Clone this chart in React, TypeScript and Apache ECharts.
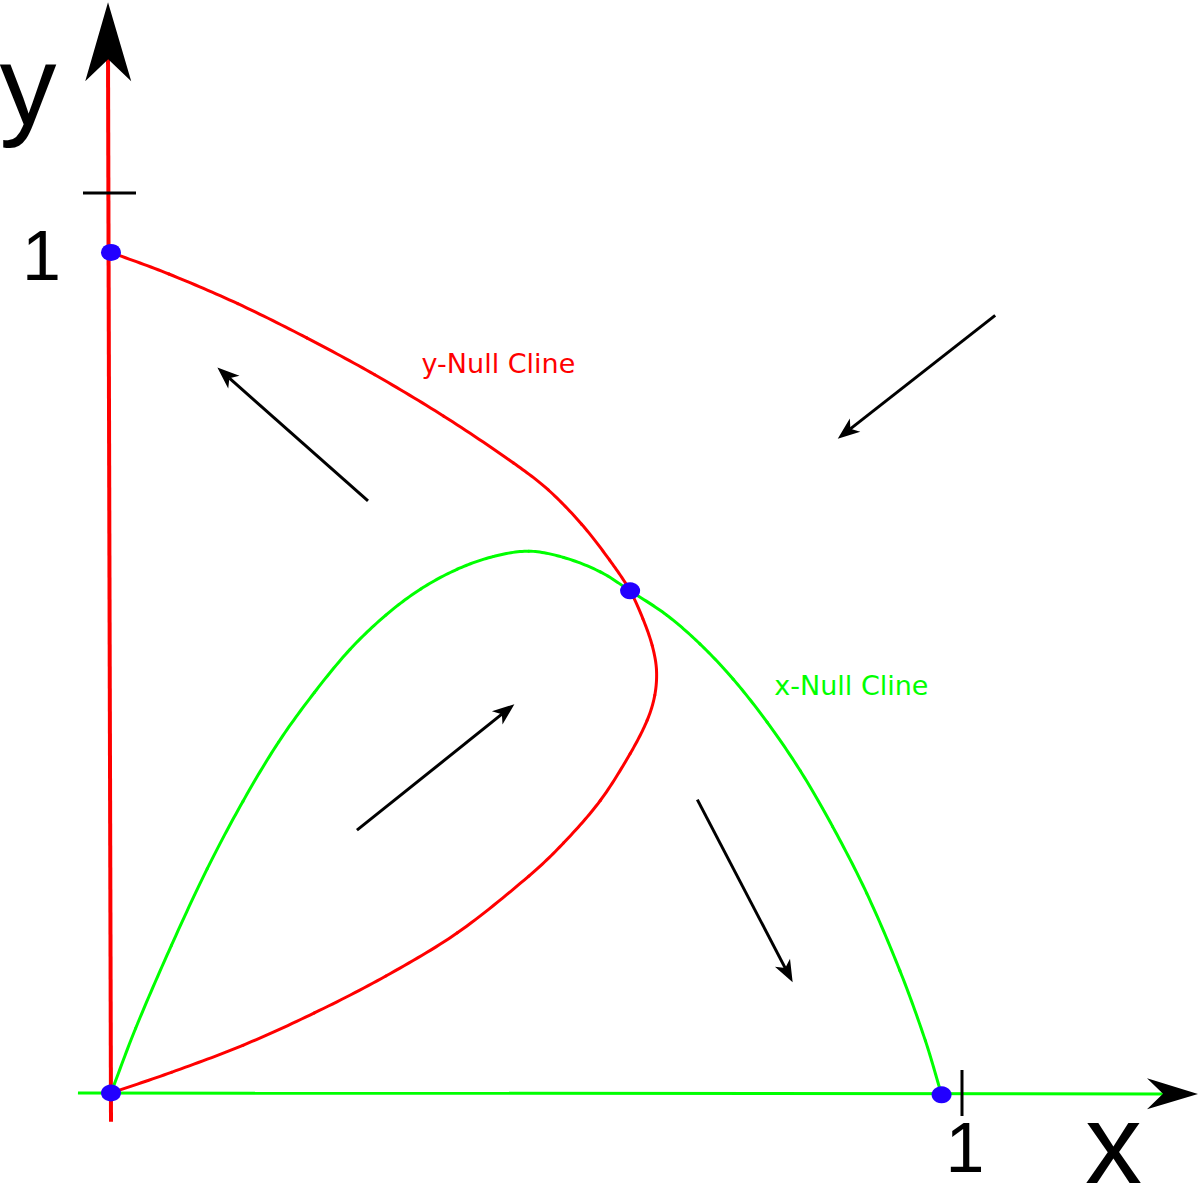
import React, { useEffect, useRef } from "react";
import * as echarts from "echarts";

// ---- Data (in phase-plane units: the "1" ticks mark x = 1 and y = 1) ----
// y-nullcline (red curve), from the equilibrium on the y axis down to the origin
const yNullclineCurve: number[][] = [
  [0, 0.934], [0.068, 0.91], [0.149, 0.877], [0.23, 0.839], [0.31, 0.798],
  [0.391, 0.752], [0.473, 0.7], [0.514, 0.67], [0.553, 0.632], [0.586, 0.592],
  [0.61, 0.558], [0.625, 0.527], [0.636, 0.497], [0.641, 0.47], [0.639, 0.442],
  [0.63, 0.414], [0.61, 0.377], [0.575, 0.325], [0.532, 0.278], [0.491, 0.241],
  [0.407, 0.178], [0.323, 0.13], [0.239, 0.089], [0.155, 0.053], [0.071, 0.023],
  [0, 0],
];
// x-nullcline (green curve), from the origin up over the hump to (1, 0)
const xNullclineCurve: number[][] = [
  [0, 0], [0.029, 0.072], [0.071, 0.164], [0.113, 0.249], [0.155, 0.324],
  [0.197, 0.39], [0.239, 0.445], [0.281, 0.493], [0.323, 0.531], [0.364, 0.56],
  [0.407, 0.582], [0.449, 0.596], [0.491, 0.602], [0.532, 0.595], [0.575, 0.579],
  [0.61, 0.558], [0.653, 0.531], [0.692, 0.499], [0.731, 0.46], [0.771, 0.412],
  [0.81, 0.358], [0.848, 0.296], [0.888, 0.222], [0.927, 0.136], [0.957, 0.058],
  [0.976, -0.002],
];
// x = 0 is part of the y-nullcline (red y axis); y = 0 is part of the x-nullcline (green x axis)
const yNullclineAxis: number[][] = [[0, -0.032], [-0.0035, 1.149]];
const xNullclineAxis: number[][] = [[-0.0388, 0], [1.236, -0.001]];
// axis arrowheads: [tailX, tailY, tipX, tipY]
const axisArrowheads: number[][] = [
  [0, -0.032, -0.0035, 1.212],
  [-0.0388, 0, 1.2773, -0.001],
];
// equilibrium points
const equilibria: number[][] = [[0, 0.934], [0.61, 0.558], [0, 0], [0.976, -0.002]];
// flow direction arrows: [fromX, fromY, toX, toY]
const flowArrows: number[][] = [
  [0.302, 0.658, 0.125, 0.806],
  [1.039, 0.864, 0.854, 0.727],
  [0.289, 0.292, 0.474, 0.432],
  [0.689, 0.326, 0.801, 0.123],
];
// ticks at 1 on each axis
const tickMarks: number[][] = [[0, 1], [1, 0]];
const tickLabelText: string[] = ["1", "1"];
const tickLabelAnchors: number[][] = [[-0.0816, 0.9303], [1.0035, -0.0616]];
const axisNameText: string[] = ["y", "x"];
const axisNameAnchors: number[][] = [[-0.0975, 1.1206], [1.178, -0.0556]];
const curveLabelText: string[] = ["y-Null Cline", "x-Null Cline"];
const curveLabelAnchors: number[][] = [[0.4553, 0.8103], [0.87, 0.4526]];

// ---- Styles ----
const RED = "#ff0000";
const GREEN = "#00ff00";
const BLUE = "#2200ff";
const BLACK = "#000000";
const AXIS_HEAD_SIZES = [
  { len: 79, half: 23, notch: 57 },
  { len: 51, half: 15.5, notch: 35 },
];
const FLOW_HEAD = { len: 22, half: 8.5, notch: 16 };
const SANS = "Liberation Sans, Arial, sans-serif";
const SAMPLES_PER_SEGMENT = 16;

function headPoints(p0: number[], p1: number[], s: { len: number; half: number; notch: number }) {
  const dx = p1[0] - p0[0];
  const dy = p1[1] - p0[1];
  const d = Math.sqrt(dx * dx + dy * dy) || 1;
  const ux = dx / d;
  const uy = dy / d;
  const nx = -uy;
  const ny = ux;
  const bx = p1[0] - ux * s.len;
  const by = p1[1] - uy * s.len;
  return {
    points: [
      [p1[0], p1[1]],
      [bx + nx * s.half, by + ny * s.half],
      [p1[0] - ux * s.notch, p1[1] - uy * s.notch],
      [bx - nx * s.half, by - ny * s.half],
    ],
    notch: [p1[0] - ux * s.notch, p1[1] - uy * s.notch],
  };
}

const dist = (a: number[], b: number[]) => Math.hypot(b[0] - a[0], b[1] - a[1]);

// smooth curve through the data points: chord-length Catmull-Rom tangents,
// each segment rendered as a finely sampled cubic
function curveSeries(name: string, pts: number[][], color: string) {
  return {
    type: "custom",
    name,
    silent: true,
    z: 4,
    data: pts,
    renderItem: (params: any, api: any) => {
      const i = params.dataIndex;
      const n = pts.length;
      if (i >= n - 1) return null;
      const c = (k: number) => api.coord(pts[Math.max(0, Math.min(n - 1, k))]);
      const tangent = (k: number) => {
        const a = c(k - 1);
        const b = c(k);
        const e = c(k + 1);
        const s = dist(a, b) + dist(b, e) || 1;
        return [(e[0] - a[0]) / s, (e[1] - a[1]) / s];
      };
      const p1 = c(i);
      const p2 = c(i + 1);
      const d = dist(p1, p2);
      const m1 = tangent(i);
      const m2 = tangent(i + 1);
      const q1 = [p1[0] + (m1[0] * d) / 3, p1[1] + (m1[1] * d) / 3];
      const q2 = [p2[0] - (m2[0] * d) / 3, p2[1] - (m2[1] * d) / 3];
      const points: number[][] = [];
      for (let s = 0; s <= SAMPLES_PER_SEGMENT; s++) {
        const t = s / SAMPLES_PER_SEGMENT;
        const u = 1 - t;
        const b0 = u * u * u;
        const b1 = 3 * u * u * t;
        const b2 = 3 * u * t * t;
        const b3 = t * t * t;
        points.push([
          b0 * p1[0] + b1 * q1[0] + b2 * q2[0] + b3 * p2[0],
          b0 * p1[1] + b1 * q1[1] + b2 * q2[1] + b3 * p2[1],
        ]);
      }
      return {
        type: "polyline",
        shape: { points },
        style: { stroke: color, lineWidth: 3, fill: null, lineCap: "round", lineJoin: "round" },
      };
    },
  };
}

function textSeries(
  name: string,
  anchors: number[][],
  texts: string[],
  fontSize: number,
  fontFamily: string,
  colors: string[]
) {
  return {
    type: "custom",
    name,
    silent: true,
    z: 10,
    data: anchors,
    renderItem: (params: any, api: any) => {
      const p = api.coord([api.value(0), api.value(1)]);
      return {
        type: "text",
        x: p[0],
        y: p[1],
        style: {
          text: texts[params.dataIndex],
          fontSize,
          fontFamily,
          fill: colors[params.dataIndex],
          textAlign: "center",
          textVerticalAlign: "middle",
        },
      };
    },
  };
}

export default function App() {
  const ref = useRef<HTMLDivElement>(null);

  useEffect(() => {
    if (!ref.current) return;
    const chart = echarts.init(ref.current, undefined, { renderer: "svg" });

    const option: any = {
      animation: false,
      backgroundColor: "#ffffff",
      grid: { left: 0, right: 0, top: 0, bottom: 0, containLabel: false },
      xAxis: { type: "value", min: -0.13043, max: 1.27967, show: false },
      yAxis: { type: "value", min: -0.10556, max: 1.21444, show: false },
      series: [
        {
          type: "line",
          name: "x = 0",
          data: yNullclineAxis,
          symbol: "none",
          lineStyle: { color: RED, width: 4 },
          z: 2,
          silent: true,
        },
        {
          type: "line",
          name: "y = 0",
          data: xNullclineAxis,
          symbol: "none",
          lineStyle: { color: GREEN, width: 3 },
          z: 2,
          silent: true,
        },
        {
          type: "custom",
          name: "axis heads",
          silent: true,
          z: 3,
          data: axisArrowheads,
          renderItem: (params: any, api: any) => {
            const p0 = api.coord([api.value(0), api.value(1)]);
            const p1 = api.coord([api.value(2), api.value(3)]);
            const h = headPoints(p0, p1, AXIS_HEAD_SIZES[params.dataIndex]);
            return { type: "polygon", shape: { points: h.points }, style: { fill: BLACK } };
          },
        },
        {
          type: "custom",
          name: "ticks",
          silent: true,
          z: 3,
          data: tickMarks,
          renderItem: (params: any, api: any) => {
            const p = api.coord([api.value(0), api.value(1)]);
            const shape =
              params.dataIndex === 0
                ? { x1: p[0] - 28, y1: p[1], x2: p[0] + 25, y2: p[1] }
                : { x1: p[0], y1: p[1] - 23, x2: p[0], y2: p[1] + 23 };
            return { type: "line", shape, style: { stroke: BLACK, lineWidth: 3 } };
          },
        },
        curveSeries("y-Null Cline", yNullclineCurve, RED),
        curveSeries("x-Null Cline", xNullclineCurve, GREEN),
        {
          type: "custom",
          name: "flow",
          silent: true,
          z: 5,
          data: flowArrows,
          renderItem: (params: any, api: any) => {
            const p0 = api.coord([api.value(0), api.value(1)]);
            const p1 = api.coord([api.value(2), api.value(3)]);
            const h = headPoints(p0, p1, FLOW_HEAD);
            return {
              type: "group",
              children: [
                {
                  type: "line",
                  shape: { x1: p0[0], y1: p0[1], x2: h.notch[0], y2: h.notch[1] },
                  style: { stroke: BLACK, lineWidth: 3 },
                },
                { type: "polygon", shape: { points: h.points }, style: { fill: BLACK } },
              ],
            };
          },
        },
        {
          type: "scatter",
          name: "equilibria",
          data: equilibria,
          symbol: "circle",
          symbolSize: [20, 17],
          itemStyle: { color: BLUE, opacity: 1 },
          z: 8,
          silent: true,
        },
        textSeries("axis names", axisNameAnchors, axisNameText, 114, SANS, [BLACK, BLACK]),
        textSeries("tick labels", tickLabelAnchors, tickLabelText, 70, SANS, [BLACK, BLACK]),
        textSeries("curve labels", curveLabelAnchors, curveLabelText, 27, "DejaVu Sans, sans-serif", [RED, GREEN]),
      ],
    };

    chart.setOption(option);
    return () => {
      chart.dispose();
    };
  }, []);

  return (
    <div
      ref={ref}
      style={{ position: "absolute", left: 0, top: 0, width: 1200, height: 1188, background: "#fff" }}
    />
  );
}
